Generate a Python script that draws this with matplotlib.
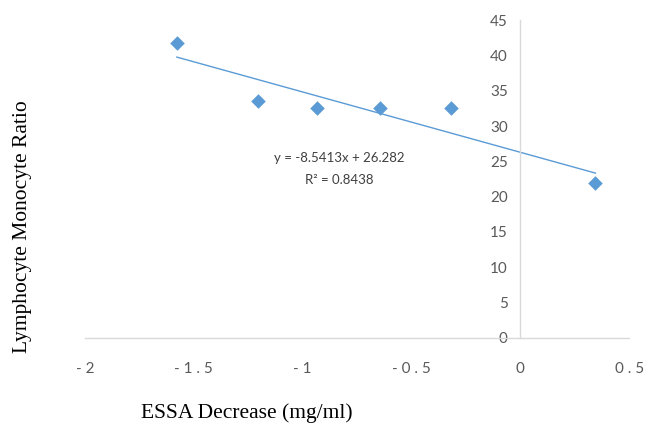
import numpy as np
import matplotlib
matplotlib.use('Agg')
from matplotlib import pyplot as plt

# data
essa = [-1.577, -1.205, -0.933, -0.644, -0.317, 0.345]
lmr = [41.7, 33.5, 32.5, 32.5, 32.5, 21.9]
slope = -8.5413
intercept = 26.282
r2 = 0.8438
xticks = [-2, -1.5, -1, -0.5, 0, 0.5]
yticks = [0, 5, 10, 15, 20, 25, 30, 35, 40, 45]

blue = '#5b9bd5'
grey = '#595959'

fig = plt.figure(figsize=(6.52, 4.26), dpi=100)
ax = fig.add_axes([0.130, 0.2066, 0.835, 0.7464])

ax.scatter(essa, lmr, marker='D', s=55, color=blue, zorder=3, linewidths=0)
tx = np.array([min(essa), max(essa)])
ax.plot(tx, slope * tx + intercept, color=blue, lw=1.0, zorder=2)

ax.text(-0.83, 25.5, 'y = -8.5413x + 26.282', ha='center', va='center',
        fontsize=9.5, color='#404040', family='Lato')
ax.text(-0.83, 22.4, 'R² = %.4f' % r2, ha='center', va='center',
        fontsize=9.5, color='#404040', family='Lato')

ax.set_xlim(-2, 0.5)
ax.set_ylim(0, 45)
ax.spines['left'].set_position(('data', 0))
ax.spines['bottom'].set_position(('data', 0))
ax.spines['right'].set_visible(False)
ax.spines['top'].set_visible(False)
for s in ['left', 'bottom']:
    ax.spines[s].set_color('#d9d9d9')
    ax.spines[s].set_linewidth(1.0)

# the x tick labels in the reference are letter-spaced
ax.set_xticks(xticks)
ax.set_xticklabels([' '.join('%g' % t) for t in xticks])
ax.set_yticks(yticks)
ax.tick_params(axis='x', length=0, pad=17, labelsize=11, labelcolor=grey)
ax.tick_params(axis='y', length=0, pad=9, labelsize=11, labelcolor=grey)
for lab in ax.get_xticklabels() + ax.get_yticklabels():
    lab.set_family('Lato')

fig.text(0.379, 0.031, 'ESSA Decrease (mg/ml)', ha='center', va='center',
         fontsize=15.5, family='Liberation Serif', color='black')
fig.text(0.034, 0.467, 'Lymphocyte Monocyte Ratio', ha='center', va='center',
         rotation=90, fontsize=15.5, family='Liberation Serif', color='black')

fig.savefig('out.png', dpi=100)
